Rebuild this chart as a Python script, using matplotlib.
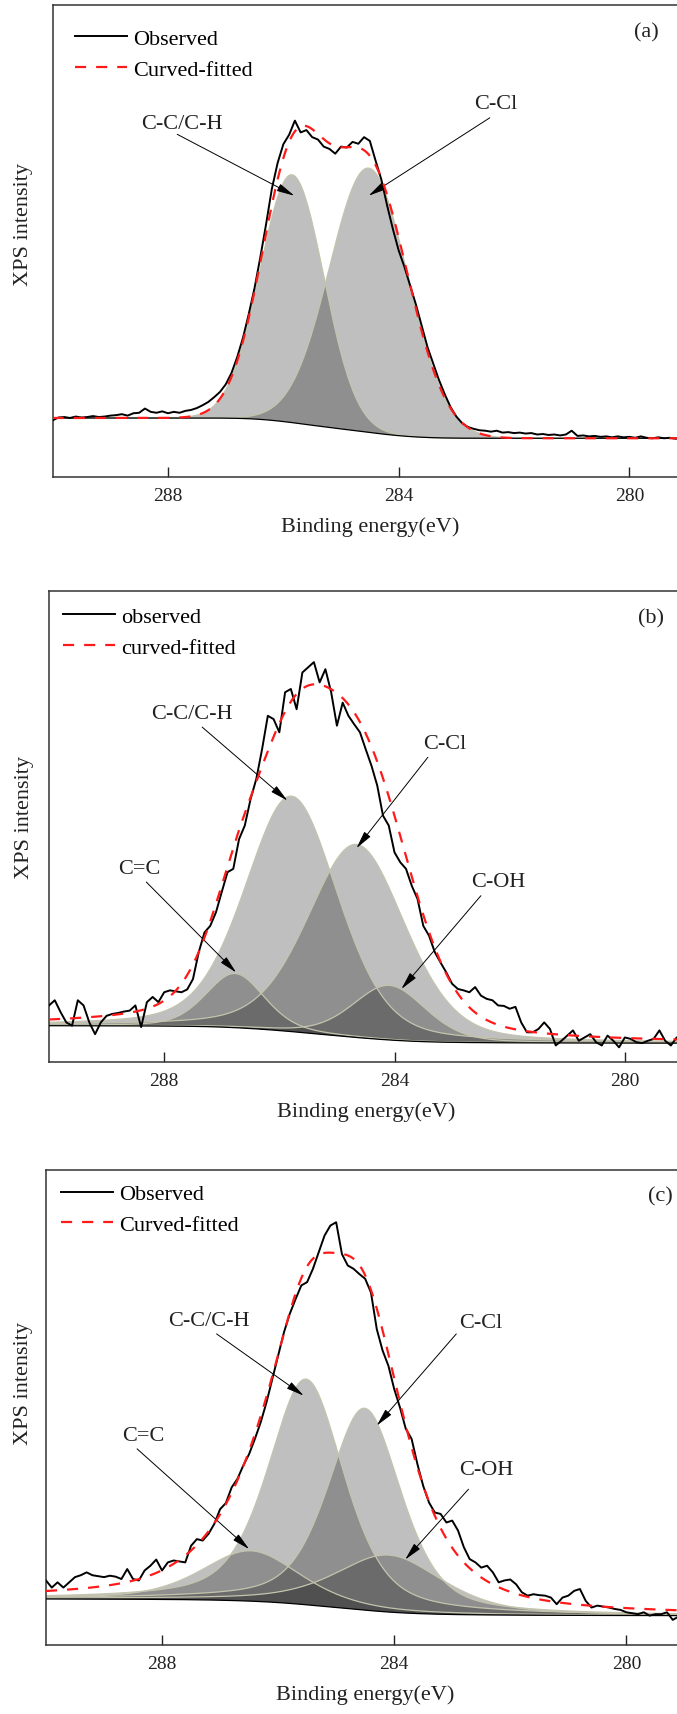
import matplotlib.pyplot as plt
import numpy as np

plt.rcParams['font.family'] = ['Liberation Serif', 'DejaVu Serif']

# binding energy of the recorded points (eV), 0.1 eV steps
energy = np.linspace(290.0, 279.0, 111)

# observed C1s spectra (arbitrary units)
obs_a = [12.0, 12.6, 12.7, 12.5, 12.8, 12.6, 12.7, 12.9, 12.7, 12.8,
         13.0, 13.1, 13.3, 13.0, 13.5, 13.6, 14.5, 13.8, 13.6, 13.9,
         13.5, 13.8, 13.6, 14.0, 14.2, 14.6, 15.2, 15.9, 16.9, 18.0,
         19.6, 22.0, 25.4, 29.5, 34.5, 40.0, 46.5, 53.5, 61.0, 66.5,
         70.5, 72.5, 75.5, 73.0, 73.5, 72.0, 71.5, 70.0, 69.5, 68.5,
         70.0, 69.8, 71.0, 70.6, 72.0, 71.2, 67.0, 63.0, 57.5, 52.5,
         48.0, 44.5, 40.5, 36.5, 32.0, 27.5, 24.0, 20.5, 17.5, 14.8,
         12.8, 11.4, 10.6, 10.2, 9.9, 9.8, 9.6, 9.8, 9.4, 9.5,
         9.3, 9.4, 9.2, 9.3, 9.0, 9.1, 8.9, 9.0, 8.8, 9.0,
         9.8, 8.7, 8.8, 8.6, 8.7, 8.5, 8.6, 8.4, 8.6, 8.4,
         8.5, 8.3, 8.6, 8.3, 8.2, 8.4, 8.2, 8.3, 8.1, 8.2, 8.0]

obs_b = [12.0, 13.1, 10.6, 8.4, 7.7, 13.1, 12.0, 8.4, 5.9, 8.4,
         9.8, 10.2, 10.4, 10.7, 10.9, 12.0, 7.4, 12.7, 13.8, 12.7,
         14.8, 15.2, 15.0, 14.8, 15.4, 17.6, 23.3, 27.5, 28.9, 31.8,
         36.1, 40.3, 41.0, 47.3, 50.2, 55.8, 60.1, 66.4, 73.5, 72.8,
         70.0, 78.5, 79.2, 74.9, 82.7, 83.8, 84.9, 80.6, 83.4, 78.5,
         71.4, 76.3, 73.5, 71.7, 70.0, 66.4, 62.9, 58.7, 52.3, 50.2,
         44.5, 42.4, 41.0, 37.4, 34.6, 28.9, 26.8, 23.3, 21.1, 19.0,
         16.6, 15.5, 15.2, 14.8, 15.9, 14.1, 13.4, 13.1, 12.0, 11.9,
         11.3, 11.7, 8.4, 6.3, 6.3, 7.0, 8.4, 7.0, 3.5, 4.5,
         5.6, 6.7, 4.5, 5.2, 5.9, 4.2, 3.5, 5.6, 4.5, 3.1,
         5.2, 4.9, 4.2, 4.0, 4.5, 4.9, 6.7, 4.5, 3.5, 5.2, 5.0]

obs_c = [13.6, 12.1, 13.2, 12.1, 13.2, 14.3, 14.7, 15.3, 14.7, 14.5,
         14.3, 14.6, 14.4, 13.9, 16.0, 13.9, 13.6, 15.7, 16.7, 18.0,
         15.7, 17.4, 17.8, 17.6, 17.4, 20.9, 22.3, 22.0, 23.4, 25.5,
         28.6, 29.9, 33.2, 35.0, 37.8, 40.2, 43.4, 46.9, 51.1, 56.0,
         60.9, 65.8, 69.7, 72.8, 75.7, 76.4, 79.2, 82.7, 86.2, 88.3,
         89.0, 82.3, 79.9, 79.2, 78.1, 77.1, 74.2, 66.5, 62.0, 58.8,
         53.9, 50.0, 45.5, 43.4, 38.1, 33.5, 30.0, 27.9, 27.6, 25.8,
         26.2, 24.1, 20.6, 18.1, 17.4, 16.3, 16.7, 15.3, 13.2, 13.6,
         13.8, 12.8, 11.1, 10.4, 10.7, 10.5, 10.4, 10.0, 8.6, 10.0,
         10.4, 11.4, 11.8, 9.3, 7.9, 8.3, 8.1, 7.9, 7.6, 7.4,
         6.9, 6.7, 6.5, 6.9, 6.2, 6.5, 6.5, 6.9, 5.3, 6.0, 6.0]

# fitted components: centre (eV), FWHM (eV), height above background
peaks_a = ['C-C/C-H', 'C-Cl']
center_a = [285.85, 284.52]
fwhm_a = [1.30, 1.60]
height_a = [52.5, 56.0]
eta_a = 0.0          # lorentzian fraction
bg_a = [12.5, 8.2]   # background level at high / low binding energy

peaks_b = ['C=C', 'C-C/C-H', 'C-Cl', 'C-OH']
center_b = [286.77, 285.79, 284.66, 284.09]
fwhm_b = [1.2, 1.9, 2.0, 1.5]
height_b = [11.5, 50.0, 41.0, 11.6]
eta_b = 0.3
bg_b = [7.7, 4.0]

peaks_c = ['C=C', 'C-C/C-H', 'C-Cl', 'C-OH']
center_c = [286.47, 285.52, 284.51, 284.09]
fwhm_c = [2.0, 1.55, 1.5, 2.2]
height_c = [10.6, 47.5, 42.5, 12.0]
eta_c = 0.5
bg_c = [9.7, 6.2]

legend_a = ['Observed', 'Curved-fitted']
legend_b = ['observed', 'curved-fitted']
legend_c = ['Observed', 'Curved-fitted']


def pseudo_voigt(x, center, fwhm, height, eta):
    d = (x - center) / fwhm
    gauss = np.exp(-4 * np.log(2) * d ** 2)
    lorentz = 1 / (1 + 4 * d ** 2)
    return height * ((1 - eta) * gauss + eta * lorentz)


def shirley(comps, high, low):
    # grid runs from high to low binding energy
    total = np.sum(comps, axis=0)
    area = np.cumsum(total[::-1])[::-1]
    return low + (high - low) * area / area[0]


def draw_panel(ax, obs, centers, fwhms, heights, eta, bg, leg, tag, notes, leg_xy):
    x = np.linspace(290.0, 279.0, 800)
    comps = [pseudo_voigt(x, c, w, h, eta) for c, w, h in zip(centers, fwhms, heights)]
    base = shirley(comps, bg[0], bg[1])
    for comp in comps:
        ax.fill_between(x, base, base + comp, facecolor='black', alpha=0.25,
                        edgecolor='none', zorder=1)
        ax.plot(x, base + comp, color='#c4c4ae', lw=0.9, zorder=2)
    ax.plot(x, base, color='black', lw=0.9, zorder=3)
    fit = base + np.sum(comps, axis=0)
    l1, = ax.plot(energy, obs, color='black', lw=1.4, zorder=4)
    l2, = ax.plot(x, fit, color='#ff1a1a', lw=1.6, ls=(0, (5, 4.5)), zorder=5)

    for label, txt_xy, start, tip in notes:
        ax.text(txt_xy[0], txt_xy[1], label, fontsize=16, ha='center', va='center',
                color='#222222')
        ax.annotate('', xy=tip, xytext=start,
                    arrowprops=dict(arrowstyle='-|>,head_length=0.9,head_width=0.2',
                                    color='black', lw=0.7, shrinkA=0, shrinkB=0,
                                    mutation_scale=12))

    ax.text(tag[1], tag[2], tag[0], fontsize=16, ha='center', va='center', color='#222222')
    ax.legend([l1, l2], leg, loc='upper left', bbox_to_anchor=leg_xy, frameon=False,
              fontsize=16, handlelength=2.35, handletextpad=0.25, labelspacing=0.45,
              borderpad=0, borderaxespad=0)

    ax.set_xlim(290, 279)
    ax.set_ylim(0, 100)
    ax.set_xticks([288, 284, 280])
    ax.set_yticks([])
    ax.tick_params(axis='x', direction='in', length=7, width=1, pad=7,
                   labelsize=14, colors='#222222')
    for s in ax.spines.values():
        s.set_linewidth(1.1)
        s.set_color('#333333')
    ax.set_xlabel('Binding energy(eV)', fontsize=16, labelpad=9, color='#222222')


fig = plt.figure(figsize=(6.77, 17.15), dpi=100)

ax_a = fig.add_axes([0.0778, 0.7213, 0.937, 0.2752])
ax_b = fig.add_axes([0.0724, 0.3802, 0.9356, 0.2746])
ax_c = fig.add_axes([0.0679, 0.0402, 0.943, 0.2770])

notes_a = [('C-C/C-H', (287.76, 74.9), (287.84, 72.6), (285.81, 59.6)),
           ('C-Cl', (282.32, 79.2), (282.42, 76.1), (284.52, 59.6))]
notes_b = [('C-C/C-H', (287.52, 73.9), (287.34, 71.1), (285.86, 55.5)),
           ('C-Cl', (283.13, 67.7), (283.42, 64.7), (284.66, 45.4)),
           ('C=C', (288.43, 41.0), (288.31, 38.2), (286.75, 19.0)),
           ('C-OH', (282.19, 38.4), (282.50, 35.3), (283.88, 15.5))]
notes_c = [('C-C/C-H', (287.20, 68.3), (287.06, 65.5), (285.56, 52.5)),
           ('C-Cl', (282.51, 67.9), (282.93, 65.5), (284.30, 46.2)),
           ('C=C', (288.32, 44.1), (288.43, 41.3), (286.50, 20.2)),
           ('C-OH', (282.41, 36.9), (282.72, 32.8), (283.81, 18.0))]

draw_panel(ax_a, obs_a, center_a, fwhm_a, height_a, eta_a, bg_a, legend_a,
           ('(a)', 279.71, 94.3), notes_a, (0.035, 0.950))
draw_panel(ax_b, obs_b, center_b, fwhm_b, height_b, eta_b, bg_b, legend_b,
           ('(b)', 279.55, 94.3), notes_b, (0.022, 0.967))
draw_panel(ax_c, obs_c, center_c, fwhm_c, height_c, eta_c, bg_c, legend_c,
           ('(c)', 279.42, 94.5), notes_c, (0.0235, 0.971))

for ax, left, width, ymid in [(ax_a, 52.7, 634.3, 0.536), (ax_b, 49, 633.4, 0.522),
                              (ax_c, 46, 638.5, 0.552)]:
    ax.text((24 - left) / width, ymid, 'XPS intensity', transform=ax.transAxes,
            rotation=90, ha='center', va='center', fontsize=16, color='#222222')

fig.savefig('out.png', dpi=100)
